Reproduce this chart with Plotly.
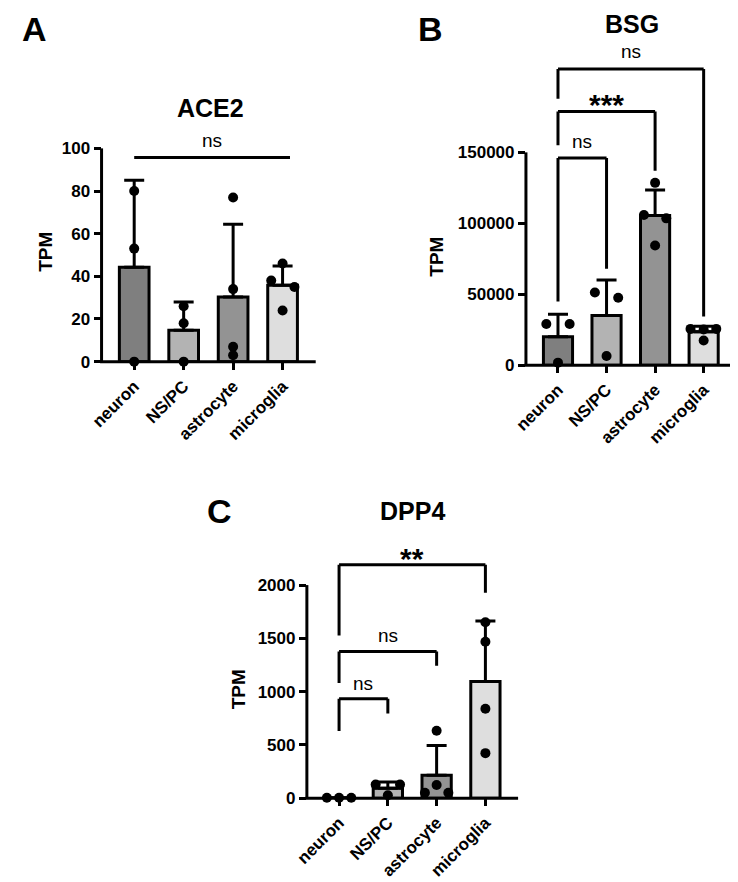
import plotly.graph_objects as go

W, H = 738, 882
# the page body adds an 8px margin, so positions below are page pixels minus this
PAGE_OFF = 8
FONT = "Liberation Sans, Arial, sans-serif"

categories = ["neuron", "NS/PC", "astrocyte", "microglia"]
bar_colors = ["#7f7f7f", "#b3b3b3", "#939393", "#dedede"]

# ACE2 (TPM)
ace2_mean = [44.3, 14.7, 30.3, 35.8]
ace2_sd = [40.7, 13.3, 34.1, 9.1]
ace2_points = [[80, 53, 0], [26, 18, 0], [77, 34, 7, 3], [46, 38, 35, 24]]
ace2_dx = [[0, 0, 0], [0, 0, 0], [0, 0, 0, 0], [0, -0.23, 0.24, 0]]

# BSG (TPM)
bsg_mean = [20000, 35100, 105500, 23500]
bsg_sd = [16000, 24900, 18000, 4000]
bsg_points = [[29000, 29000, 1800], [51300, 47600, 6500],
              [128500, 105800, 103500, 84400], [25600, 25200, 25600, 17400]]
bsg_dx = [[-0.24, 0.24, 0], [-0.24, 0.24, 0], [0, -0.23, 0.23, 0], [-0.27, 0, 0.26, 0]]

# DPP4 (TPM)
dpp4_mean = [5, 94, 215, 1096]
dpp4_sd = [0, 58, 281, 567]
dpp4_points = [[5, 5, 5], [128, 128, 28], [633, 124, 52, 52], [1651, 1468, 840, 423]]
dpp4_dx = [[-0.25, 0, 0.25], [-0.25, 0.25, 0], [0, 0, -0.24, 0.24], [0, 0, 0, 0]]

# significance brackets: label, left cat, right cat, top y, left leg end, right leg end, label y
ace2_brackets = [("ns", 0, 3.15, 95.7, None, None, 103.7)]
bsg_brackets = [
    ("ns", 0, 3, 208800, 187700, 34400, 221400),
    ("***", 0, 2, 178800, 155100, 137000, 189300),
    ("ns", 0, 1, 146000, 44900, 67900, 157900),
]
dpp4_brackets = [
    ("**", 0, 3, 2192, 1527, 1929, 2325),
    ("ns", 0, 2, 1376, 1082, 1243, 1531),
    ("ns", 0, 1, 933, 631, 794, 1079),
]

ace2_ticks = [0, 20, 40, 60, 80, 100]
bsg_ticks = [0, 50000, 100000, 150000]
dpp4_ticks = [0, 500, 1000, 1500, 2000]


def fx(px):
    return (px - PAGE_OFF) / W


def fy(py):
    return 1 - (py - PAGE_OFF) / H


# y=None puts a text flush with the top edge of the figure
panels = [
    dict(name="ACE2", letter="A", mean=ace2_mean, sd=ace2_sd, pts=ace2_points, dx=ace2_dx,
         br=ace2_brackets, ticks=ace2_ticks, ymax=110, xpx=(90, 308), ypx=(365.7, 128.4),
         title=(201, 109), let=(22, None), tpm=(33, 255)),
    dict(name="BSG", letter="B", mean=bsg_mean, sd=bsg_sd, pts=bsg_points, dx=bsg_dx,
         br=bsg_brackets, ticks=bsg_ticks, ymax=230000, xpx=(522, 736), ypx=(369.3, 39.2),
         title=(630, None), let=(425, None), tpm=(431, 260)),
    dict(name="DPP4", letter="C", mean=dpp4_mean, sd=dpp4_sd, pts=dpp4_points, dx=dpp4_dx,
         br=dpp4_brackets, ticks=dpp4_ticks, ymax=2450, xpx=(299, 514), ypx=(807.3, 543.2),
         title=(407, 517), let=(210, 517), tpm=(229, 697)),
]


def paper_text(pos, text, size, **extra):
    x, y = pos
    return dict(x=fx(x), y=1 if y is None else fy(y), xref="paper", yref="paper",
                text=text, showarrow=False, xanchor="center",
                yanchor="top" if y is None else "middle",
                font=dict(family=FONT, size=size, color="black", weight="bold"), **extra)


fig = go.Figure()
shapes = []
annotations = []
LW = 3

for k, p in enumerate(panels, start=1):
    xa = "x" if k == 1 else f"x{k}"
    ya = "y" if k == 1 else f"y{k}"
    top_tick = p["ticks"][-1]
    xr = [-0.66, 3.67]

    fig.add_trace(go.Bar(
        x=list(range(4)), y=p["mean"], width=0.6, xaxis=xa, yaxis=ya,
        marker=dict(color=bar_colors, line=dict(color="black", width=LW)),
        error_y=dict(type="data", symmetric=False, array=p["sd"], arrayminus=[0] * 4,
                     color="black", thickness=LW, width=10),
        showlegend=False, hoverinfo="skip",
    ))
    xs, ys = [], []
    for i, (vals, offs) in enumerate(zip(p["pts"], p["dx"])):
        xs += [i + d for d in offs]
        ys += vals
    fig.add_trace(go.Scatter(
        x=xs, y=ys, mode="markers", xaxis=xa, yaxis=ya, cliponaxis=False,
        marker=dict(color="black", size=10), showlegend=False, hoverinfo="skip",
    ))

    axis_common = dict(showgrid=False, zeroline=False, showline=False,
                       ticks="outside", ticklen=7, tickwidth=LW, tickcolor="black")
    fig.layout[xa.replace("x", "xaxis")] = dict(
        domain=[fx(p["xpx"][0]), fx(p["xpx"][1])], range=xr, anchor=ya,
        tickvals=list(range(4)), ticktext=categories, tickangle=-45,
        tickfont=dict(family=FONT, size=17, color="black", weight="bold"),
        **axis_common)
    fig.layout[ya.replace("y", "yaxis")] = dict(
        domain=[fy(p["ypx"][0]), fy(p["ypx"][1])], range=[0, p["ymax"]], anchor=xa,
        tickvals=p["ticks"], ticktext=[str(t) for t in p["ticks"]],
        tickfont=dict(family=FONT, size=17, color="black", weight="bold"),
        **axis_common)

    # axis lines
    shapes.append(dict(type="line", xref=f"{xa} domain", yref=f"{ya} domain",
                       x0=0, x1=0, y0=0, y1=top_tick / p["ymax"],
                       line=dict(color="black", width=LW), layer="above"))
    shapes.append(dict(type="line", xref=f"{xa} domain", yref=f"{ya} domain",
                       x0=-0.007, x1=1, y0=0, y1=0,
                       line=dict(color="black", width=LW), layer="above"))

    # significance brackets
    for lab, c0, c1, yt, yl, yr_, ytxt in p["br"]:
        shapes.append(dict(type="line", xref=xa, yref=ya, x0=c0, x1=c1, y0=yt, y1=yt,
                           line=dict(color="black", width=LW)))
        if yl is not None:
            shapes.append(dict(type="line", xref=xa, yref=ya, x0=c0, x1=c0, y0=yl, y1=yt,
                               line=dict(color="black", width=LW)))
            shapes.append(dict(type="line", xref=xa, yref=ya, x0=c1, x1=c1, y0=yr_, y1=yt,
                               line=dict(color="black", width=LW)))
        star = lab.startswith("*")
        annotations.append(dict(
            x=(c0 + c1) / 2, y=ytxt, xref=xa, yref=ya, text=lab, showarrow=False,
            yanchor="middle", yshift=-8 if star else 0,
            font=dict(family=FONT, size=30 if star else 19, color="black",
                      weight="bold" if star else "normal")))

    # titles, panel letters, y titles
    annotations.append(paper_text(p["title"], p["name"], 25))
    annotations.append(paper_text(p["let"], p["letter"], 34))
    annotations.append(paper_text(p["tpm"], "TPM", 19, textangle=-90))

fig.update_layout(
    width=W, height=H, margin=dict(l=0, r=0, t=0, b=0),
    paper_bgcolor="white", plot_bgcolor="white",
    shapes=shapes, annotations=annotations, showlegend=False,
)

fig.write_html("out.html")
